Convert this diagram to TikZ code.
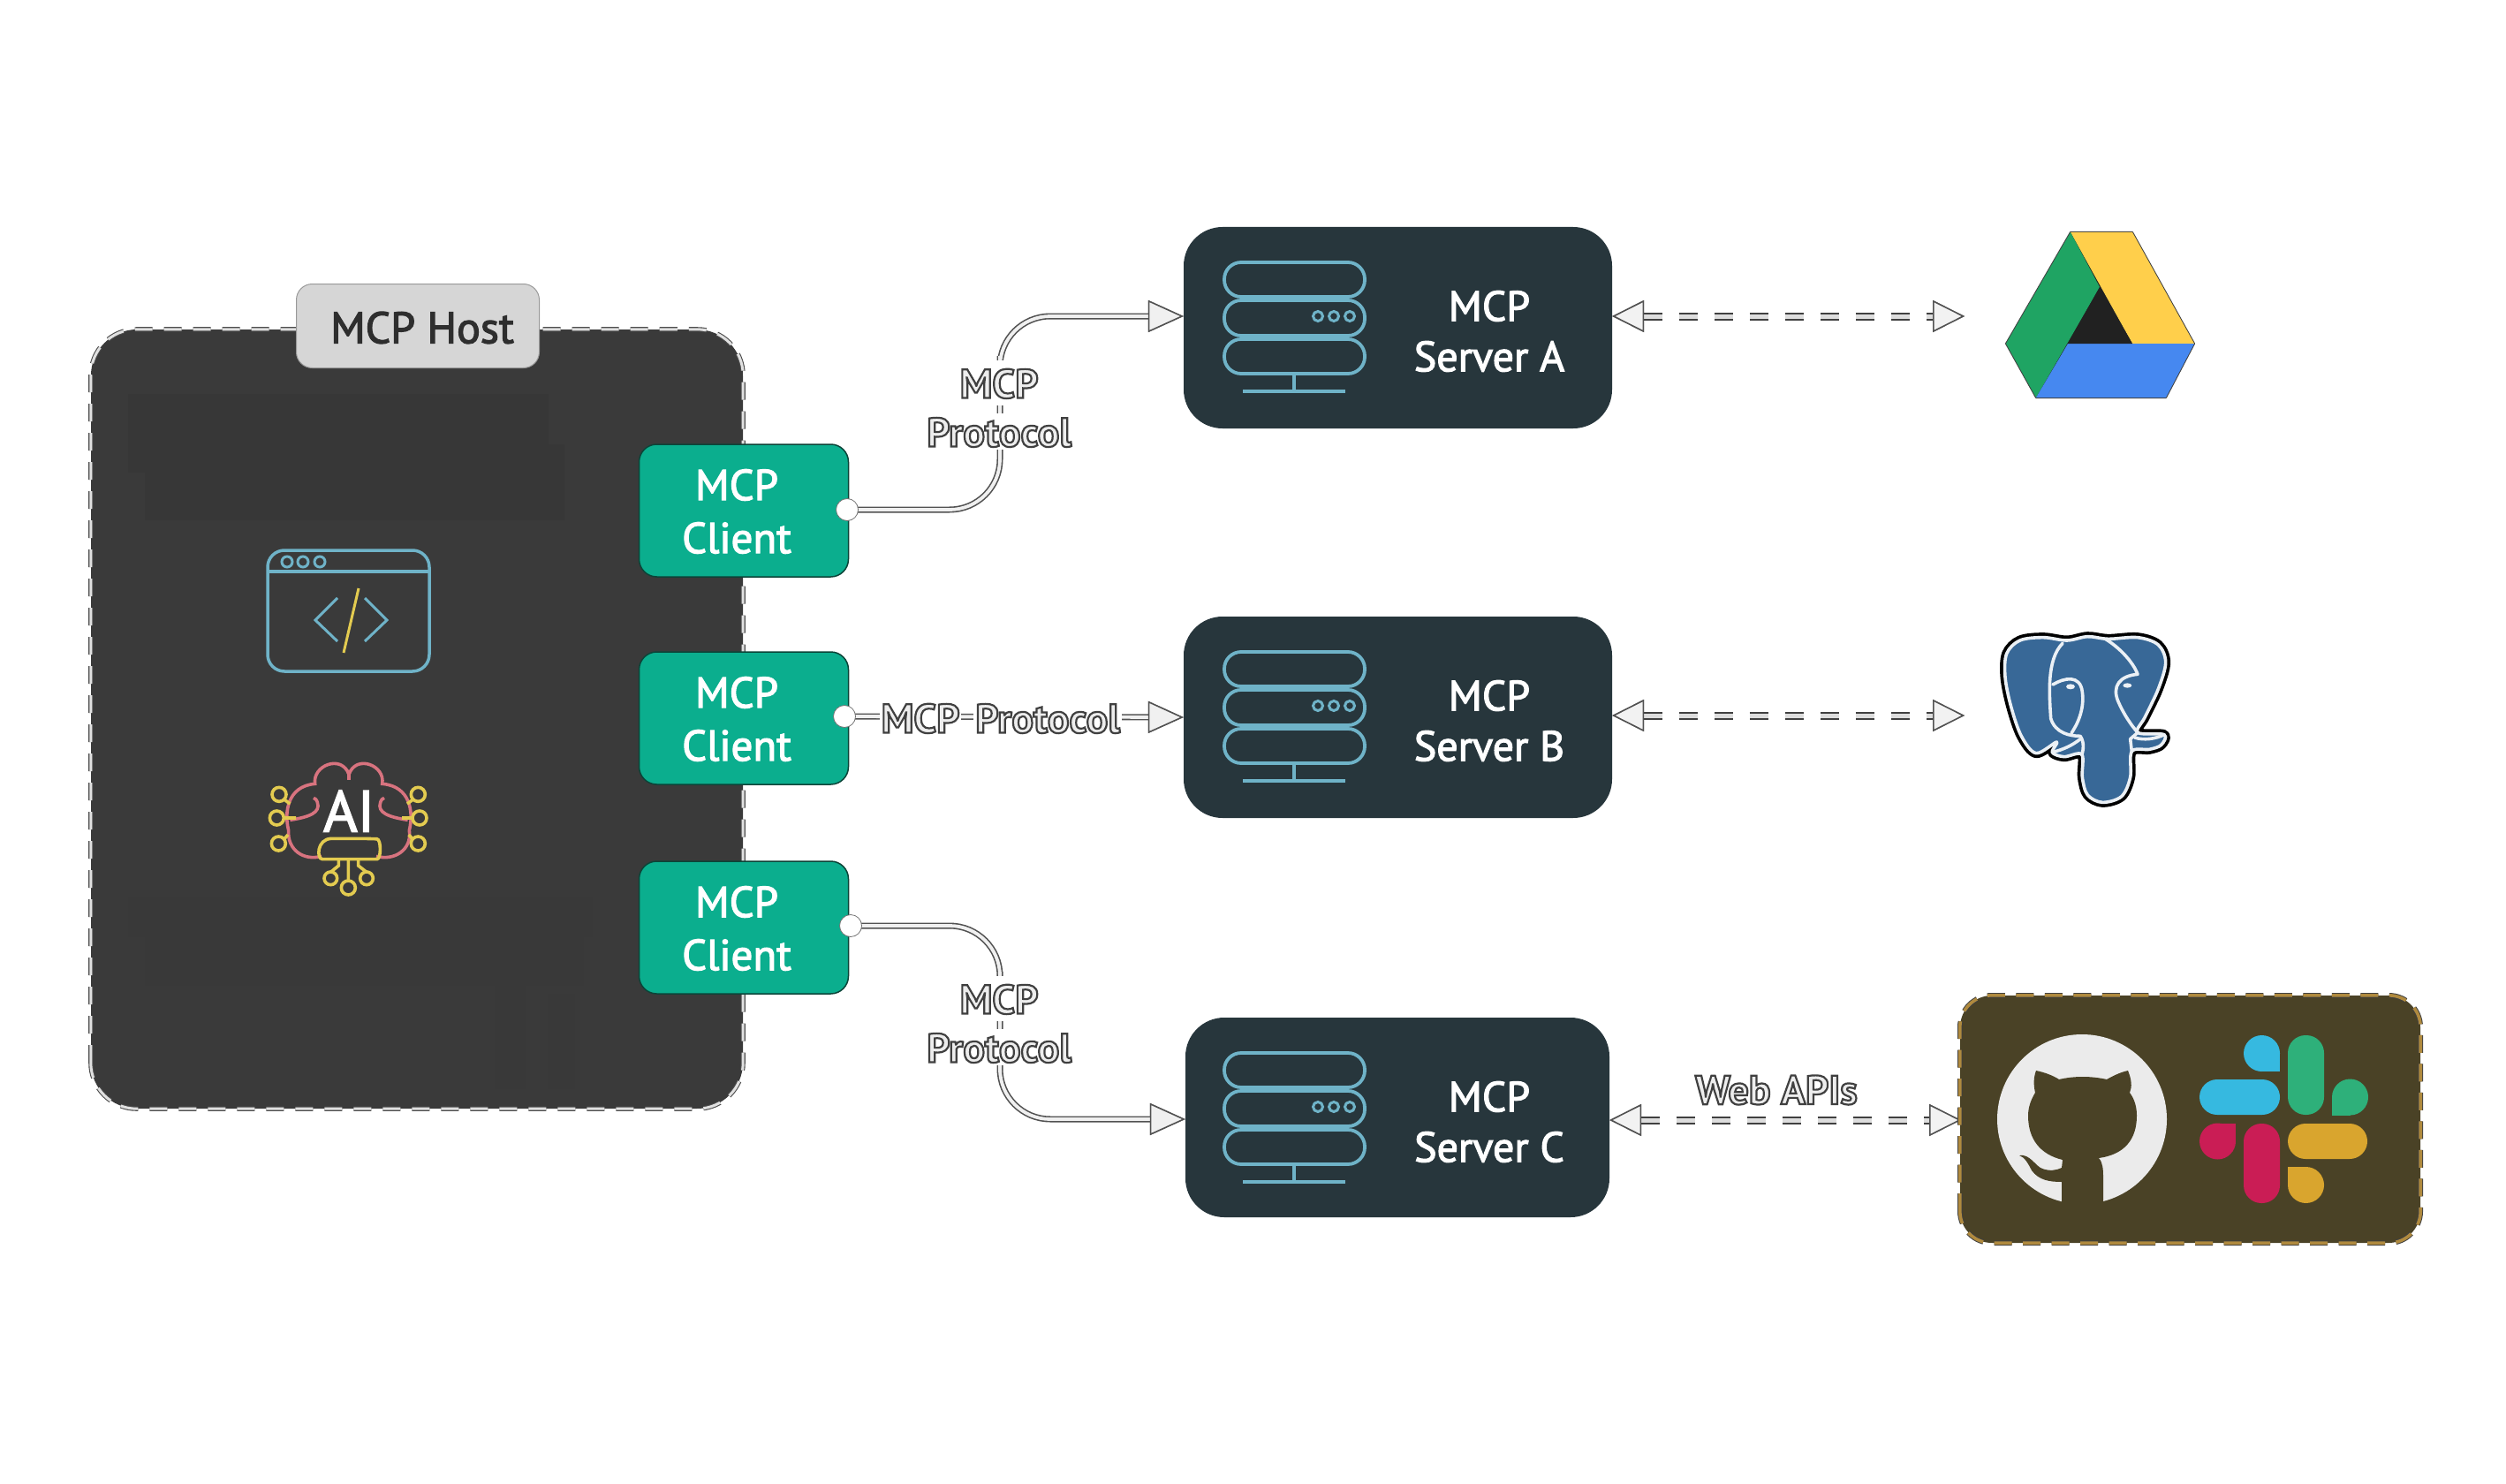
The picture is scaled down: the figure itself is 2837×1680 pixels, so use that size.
\documentclass[tikz,border=0pt]{standalone}
\usepackage{fontspec}
\usetikzlibrary{arrows.meta}
\setmainfont{PT Sans}
\newfontfamily\din[FakeBold=2.4]{PT Sans}
\definecolor{hostfill}{HTML}{3A3A3A}
\definecolor{hostpatch}{HTML}{373737}
\definecolor{hostpatchb}{HTML}{393939}
\definecolor{edge}{HTML}{3C3C3C}
\definecolor{wirefill}{HTML}{F0F0F0}
\definecolor{tagfill}{HTML}{D6D6D6}
\definecolor{tagtext}{HTML}{2E2E2E}
\definecolor{clientfill}{HTML}{0BAE8E}
\definecolor{clientedge}{HTML}{0B4438}
\definecolor{serverfill}{HTML}{27363C}
\definecolor{glyph}{HTML}{6FB3C8}
\definecolor{glyphy}{HTML}{E3CB50}
\definecolor{brain}{HTML}{D8737F}
\definecolor{appsfill}{HTML}{4A4226}
\definecolor{appsdash}{HTML}{B08A3E}
\definecolor{pgblue}{HTML}{386897}
\newcommand\outlined[1]{\special{pdf:code 2 Tr 2.2 w 0.25 G 0.93 g}{\bfseries #1}\special{pdf:code 0 Tr 0 g 0 G}}
\newcommand\pxfont[2]{\fontsize{#1}{#2}\selectfont}
\newcommand\tipdrop[4]{% x y quadrant-x quadrant-y : round drop with one sharp corner
  \fill (#1,#2) circle (20.5);
  \fill (#1,#2) rectangle ++(#3*20.5,#4*20.5);}
\tikzset{
  x=1pt,y=-1pt,
  hostbox/.style={draw=none,fill=hostfill,rounded corners=52pt,minimum width=738pt,minimum height=882pt,inner sep=0},
  hostdash/.style={draw=white!88!black,line width=3pt,dash pattern=on 20pt off 13pt,
     preaction={draw=black!70,line width=5.2pt,dash pattern=on 20pt off 13pt}},
  tagbox/.style={fill=tagfill,draw=white!60!black,line width=1pt,rounded corners=18pt,minimum width=275pt,minimum height=95pt,inner sep=0},
  tagtxt/.style={text=tagtext,font=\din\pxfont{50}{58},inner sep=0},
  clientbox/.style={fill=clientfill,draw=clientedge,line width=1.5pt,rounded corners=20pt,minimum width=237pt,minimum height=150pt,inner sep=0},
  clienttxt/.style={text=white,font=\din\pxfont{49}{60},align=center,inner sep=0},
  serverbox/.style={fill=serverfill,rounded corners=44pt,minimum width=485pt,minimum height=228pt,inner sep=0},
  servertxt/.style={text=white,font=\din\pxfont{48}{57},align=center,inner sep=0},
  dotport/.style={circle,fill=white,draw=black!55,line width=0.8pt,minimum size=25pt,inner sep=0},
  prototxt/.style={fill=white,inner xsep=2pt,font=\pxfont{46}{58},text height=35pt,text depth=0pt},
  wire/.style={draw=wirefill,line width=3.8pt,rounded corners=57pt,
     preaction={draw=black!68,line width=7pt}},
  dwire/.style={draw=wirefill!92!black,line width=5pt,dash pattern=on 21pt off 19pt,
     preaction={draw=black!75,line width=9pt,dash pattern=on 21pt off 19pt}},
  solidtip/.tip={Triangle[length=40pt,width=36pt,fill=wirefill,color=black!68,line width=1.5pt]},
  opentip/.tip={Triangle[length=36pt,width=36pt,fill=white!95!black,color=black!68,line width=1.5pt]},
  icon/.style={draw=glyph,line width=3.5pt},
  rows/.style={draw=glyph,line width=3.8pt,rounded corners=19pt},
  aiicon/.style={line width=3.6pt},
  unit/.style={x=0.33333pt,y=-0.33333pt},
}
\begin{document}
\begin{tikzpicture}
\useasboundingbox (0,0) rectangle (2837,1680);
\fill[white] (0,0) rectangle (2837,1680);

% host
\node[hostbox] (host) at (472,814) {};
\draw[hostdash,rounded corners=52pt] (host.south west) rectangle (host.north east);
\fill[hostpatch] (145,446) rectangle (621,535) (164,503) rectangle (639,589);
\fill[hostpatchb] (145,1016) rectangle (670,1060) (164,1060) rectangle (660,1115) (560,1115) rectangle (595,1232) (620,1125) rectangle (650,1232);
\node[tagbox] (tag) at (473,369) {};
\node[tagtxt] (tagtext) at (478,371) {MCP Host};

% browser glyph
\draw[icon,rounded corners=19pt] (303,623) rectangle (486,760);
\draw[icon] (303,647) -- (486,647);
\foreach \px in {325,343,362} \draw[glyph,line width=3pt] (\px,636) circle (6);
\draw[icon,line width=3pt] (382,677) -- (357,702) -- (382,726);
\draw[icon,line width=3pt] (413,677) -- (438,702) -- (413,726);
\draw[glyphy,line width=3pt] (406,666) -- (389,739);

% AI glyph
\begin{scope}[shift={(260,600)},unit]
  \draw[brain,aiicon] (312,1108) .. controls (250,1125) and (195,1085) .. (200,1020)
     .. controls (185,960) and (195,870) .. (290,862)
     .. controls (280,800) and (380,760) .. (405,830)
     .. controls (430,760) and (530,800) .. (518,862)
     .. controls (615,870) and (625,960) .. (610,1020)
     .. controls (620,1085) and (560,1125) .. (498,1108);
  \draw[brain,aiicon] (205,985) .. controls (270,975) and (310,960) .. (298,925) .. controls (295,915) and (290,912) .. (285,910);
  \draw[brain,aiicon] (605,985) .. controls (540,975) and (500,960) .. (512,925) .. controls (515,915) and (520,912) .. (525,910);
  \draw[brain,aiicon] (405,830) -- (405,850);
  \draw[glyphy,aiicon,rounded corners=10pt] (345,1048) -- (470,1048) .. controls (515,1050) and (515,1118) .. (470,1118) -- (345,1118) .. controls (295,1118) and (295,1050) .. (345,1048);
  \draw[glyphy,aiicon] (403,1118) -- (403,1192) (343,1162) -- (370,1140) -- (370,1118) (465,1162) -- (437,1140) -- (437,1118);
  \foreach \cx/\cy/\rr in {343/1183/22,403/1215/24,465/1183/22,168/898/24,160/978/24,166/1065/24,640/898/24,645/978/24,640/1065/24}
     \draw[glyphy,aiicon] (\cx,\cy) circle (\rr);
  \draw[glyphy,aiicon] (184,978) -- (225,978) (185,915) -- (205,930) (185,1050) -- (198,1035)
     (621,978) -- (585,978) (623,915) -- (603,930) (622,1050) -- (608,1035);
\end{scope}
\node[text=white,font=\din\pxfont{66}{66},inner sep=0] (aitxt) at (395,918) {AI};

% clients
\node[clientbox] (c1) at (842,578) {};
\node[clientbox] (c2) at (842,813) {};
\node[clientbox] (c3) at (842,1050) {};
\node[clienttxt] (c1t) at (834,579) {MCP\\Client};
\node[clienttxt] (c2t) at (834,814) {MCP\\Client};
\node[clienttxt] (c3t) at (834,1051) {MCP\\Client};
\coordinate (d1) at (959,577);
\coordinate (d2) at (956,811);
\coordinate (d3) at (963,1048);

% servers
\node[serverbox] (a) at (1582.5,371) {};
\node[serverbox] (b) at (1582.5,812) {};
\node[serverbox,minimum width=480pt,minimum height=226pt] (cc) at (1582,1265) {};
\foreach \sn/\ty/\sname in {a/257/A,b/698/B,cc/1152/C}{
  \draw[rows] (1386,\ty+40) rectangle (1545,\ty+79);
  \draw[rows] (1386,\ty+83) rectangle (1545,\ty+123);
  \draw[rows] (1386,\ty+127) rectangle (1545,\ty+166);
  \draw[icon] (1465,\ty+166) -- (1465,\ty+186) (1407,\ty+186) -- (1523,\ty+186);
  \foreach \px in {1492,1510,1528} \draw[glyph,line width=3pt] (\px,\ty+101) circle (5.5);
  \node[servertxt] (\sn t) at (1686,\ty+118) {MCP\\Server \sname};
}

% connector coordinates
\coordinate (k1) at (1132,460);
\coordinate (k3) at (1132,1157);
\coordinate (ea) at (2224,358);
\coordinate (eb) at (2224,810);
\coordinate (ec) at (2220,1268);

% protocol connectors
\draw[wire,-{solidtip}] (d1) -| (k1) |- ([yshift=13pt]a.west);
\draw[wire,-{solidtip}] (d2) -- (b.west);
\draw[wire,-{solidtip}] (d3) -| (k3) |- ([yshift=-2pt]cc.west);
\node[dotport] (p1) at (d1) {};
\node[dotport] (p2) at (d2) {};
\node[dotport] (p3) at (d3) {};

% protocol labels
\node[prototxt,inner ysep=8pt] (l1a) at (1131,433) {\outlined{MCP}};
\node[prototxt,inner ysep=3pt] (l1b) at (1131,488) {\outlined{Protocol}};
\node[prototxt,inner ysep=8pt] (l2a) at (1042,812) {\outlined{MCP}};
\node[prototxt,inner ysep=3pt] (l2b) at (1186,812) {\outlined{Protocol}};
\node[prototxt,inner ysep=8pt] (l3a) at (1131,1130) {\outlined{MCP}};
\node[prototxt,inner ysep=3pt] (l3b) at (1131,1185) {\outlined{Protocol}};

% dashed connectors
\draw[dwire,{opentip}-{opentip}] ([yshift=13pt]a.east) -- (ea);
\draw[dwire,{opentip}-{opentip}] ([yshift=2pt]b.east) -- (eb);
\draw[dwire,{opentip}-{opentip}] ([yshift=-3pt]cc.east) -- (ec);
\node[inner sep=0,font=\pxfont{46}{58}] (webapi) at (2011,1234) {\outlined{Web APIs}};

% Google Drive
\begin{scope}[draw=black!75,line width=2pt,line join=round]
  \filldraw[fill=black!87] (2344,263) -- (2414,263) -- (2484,389) -- (2452,450) -- (2305,450) -- (2271,389) -- cycle;
  \fill[color={rgb,255:red,255;green,207;blue,75}] (2344,263) -- (2414,263) -- (2484,389) -- (2414,389) -- cycle;
  \fill[color={rgb,255:red,31;green,164;blue,99}] (2344,263) -- (2377,325) -- (2305,450) -- (2271,389) -- cycle;
  \fill[color={rgb,255:red,70;green,136;blue,240}] (2341,389) -- (2484,389) -- (2452,450) -- (2305,450) -- cycle;
  \fill[black!87] (2341,389) -- (2377,325) -- (2414,389) -- cycle;
\end{scope}

% PostgreSQL
\begin{scope}[shift={(2220,680)},unit,line join=round]
  \def\pgshape{plot[smooth cycle,tension=0.55] coordinates {(360,135) (430,122) (500,130) (600,125) (670,150) (695,210) (670,300) (625,395) (600,448) (690,455) (680,490) (640,505) (580,512) (575,600) (545,665) (480,685) (430,660) (412,600) (410,522) (350,530) (310,515) (325,480) (255,518) (205,460) (170,360) (150,260) (155,180) (200,135) (280,125)}}
  \draw[black,line width=11pt] \pgshape;
  \filldraw[fill=pgblue,draw=white!90!pgblue,line width=3.6pt] \pgshape;
  \draw[white!90!pgblue,line width=3.6pt,line cap=round] (345,145) .. controls (290,200) and (300,320) .. (305,400) .. controls (320,450) and (370,460) .. (405,460) .. controls (420,480) and (415,510) .. (410,525);
  \draw[white!90!pgblue,line width=3.6pt,line cap=round] (490,130) .. controls (540,160) and (585,210) .. (600,250) .. controls (540,255) and (510,290) .. (535,345) .. controls (555,390) and (580,425) .. (600,448) -- (575,470) -- (580,512);
  \draw[white!90!pgblue,line width=3.6pt,line cap=round] (312,285) .. controls (350,262) and (405,250) .. (412,310) .. controls (420,370) and (395,420) .. (375,450);
  \draw[white!90!pgblue,line width=3.6pt,line cap=round] (310,515) .. controls (350,505) and (380,490) .. (405,470);
  \draw[white!90!pgblue,line width=3.6pt,line cap=round] (590,465) .. controls (620,475) and (660,470) .. (690,455);
  \fill[white!90!pgblue] (372,292) ellipse (15 and 9) (565,288) ellipse (15 and 8);
\end{scope}

% apps panel
\node[fill=appsfill,rounded corners=36pt,minimum width=521pt,minimum height=280pt,inner sep=0] (apps) at (2479.5,1267) {};
\draw[appsdash,line width=3.6pt,rounded corners=36pt,dash pattern=on 20pt off 12.5pt,
   preaction={draw=black!75,line width=5.6pt,dash pattern=on 20pt off 12.5pt}] (apps.south west) rectangle (apps.north east);

% GitHub mark
\fill[white!92!black] (2357,1267) circle (96);
\fill[appsfill] (2305,1212) .. controls (2315,1214) and (2325,1218) .. (2331,1222)
   .. controls (2348,1218) and (2367,1218) .. (2385,1222)
   .. controls (2392,1218) and (2400,1214) .. (2409,1212)
   .. controls (2413,1222) and (2414,1230) .. (2411,1237)
   .. controls (2417,1245) and (2419,1254) .. (2419,1263)
   .. controls (2419,1290) and (2405,1307) .. (2376,1311)
   .. controls (2381,1317) and (2381,1325) .. (2381,1332)
   -- (2381,1368) -- (2334,1368) -- (2334,1338)
   .. controls (2320,1338) and (2308,1336) .. (2300,1325)
   .. controls (2296,1317) and (2292,1310) .. (2286,1308)
   .. controls (2298,1306) and (2304,1320) .. (2312,1323)
   .. controls (2320,1326) and (2328,1325) .. (2334,1322)
   -- (2335,1313)
   .. controls (2310,1307) and (2296,1290) .. (2296,1263)
   .. controls (2296,1254) and (2299,1245) .. (2304,1237)
   .. controls (2302,1228) and (2302,1220) .. (2305,1212) -- cycle;
\fill[appsfill] (2290,1362) rectangle (2425,1370);

% Slack mark
\begin{scope}[color={rgb,255:red,54;green,185;blue,224}]
  \fill[rounded corners=20pt] (2490,1222) rectangle (2581,1262);
  \tipdrop{2560.5}{1192.5}{1}{1}
\end{scope}
\begin{scope}[color={rgb,255:red,46;green,176;blue,122}]
  \fill[rounded corners=20pt] (2590,1172) rectangle (2631,1262);
  \tipdrop{2660.5}{1242}{-1}{1}
\end{scope}
\begin{scope}[color={rgb,255:red,202;green,29;blue,85}]
  \fill[rounded corners=20pt] (2540,1272) rectangle (2581,1362);
  \tipdrop{2510.5}{1292}{1}{-1}
\end{scope}
\begin{scope}[color={rgb,255:red,217;green,165;blue,46}]
  \fill[rounded corners=20pt] (2590,1272) rectangle (2680,1312);
  \tipdrop{2610.5}{1341.5}{-1}{-1}
\end{scope}
\end{tikzpicture}
\end{document}
